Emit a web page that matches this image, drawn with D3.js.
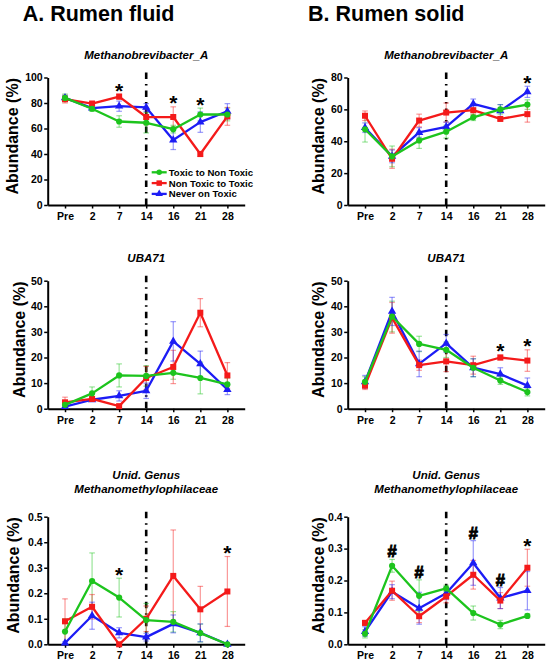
<!DOCTYPE html>
<html>
<head>
<meta charset="utf-8">
<script src="https://cdn.jsdelivr.net/npm/d3@7"></script>
<style>
  body { margin: 0; background: #fff; }
  text { font-family: "Liberation Sans", Arial, sans-serif; }
</style>
</head>
<body>
<div id="chart"></div>
<script>
// categories
const days = ["Pre", "2", "7", "14", "16", "21", "28"];
const groups = ["Toxic to Non Toxic", "Non Toxic to Toxic", "Never on Toxic"];

// A. Rumen fluid - Methanobrevibacter_A  (rows: green, red, blue)
const fluidMbaMean = [
  [84, 75.5, 65.5, 64.5, 59.5, 71, 71],
  [83, 79.5, 85, 69, 69, 40, 69.5],
  [84, 76, 77.5, 76.5, 51, 65, 73.5]
];
const fluidMbaSem = [
  [3, 2, 4.5, 8, 3, 5, 5],
  [3, 2, 2, 6, 8, 2, 7],
  [2, 1.5, 4, 3, 7.5, 8, 6]
];
const fluidMbaMarks = [["7", "*"], ["16", "*"], ["21", "*"]];

// B. Rumen solid - Methanobrevibacter_A
const solidMbaMean = [
  [47.5, 30.5, 40.5, 46, 55, 60, 63],
  [56, 29, 53, 58, 59.5, 54, 57],
  [48.5, 30.5, 45.5, 49, 63.5, 59, 71]
];
const solidMbaSem = [
  [8, 6.5, 5, 4, 2, 3, 3],
  [3, 6, 4, 6, 3, 1, 5],
  [3, 4, 3, 3, 3, 4, 3.5]
];
const solidMbaMarks = [["28", "*"]];

// A. Rumen fluid - UBA71
const fluidUbaMean = [
  [1.5, 6, 13, 12.8, 14, 12, 9.5],
  [2.5, 3.8, 1, 12, 16.3, 37.5, 13],
  [0.8, 3.5, 5, 7, 26.3, 17.5, 7.5]
];
const fluidUbaSem = [
  [1, 2.5, 4.5, 4, 2.5, 6.2, 2.5],
  [2, 0.5, 0.5, 4.5, 6.5, 5.5, 5],
  [0.5, 0.5, 2, 3, 7.7, 5, 2]
];
const fluidUbaMarks = [];

// B. Rumen solid - UBA71
const solidUbaMean = [
  [10.5, 36, 25.3, 23, 16, 11, 6.5],
  [9, 35.5, 17, 18.5, 17, 20, 18.8],
  [10.5, 38, 17.5, 25.5, 16, 13.5, 9]
];
const solidUbaSem = [
  [2, 6, 3, 3, 3.5, 1.5, 1.5],
  [1.5, 6, 2, 4, 3.5, 1, 4.2],
  [2.5, 5.5, 5, 3.5, 3.5, 2.5, 3]
];
const solidUbaMarks = [["21", "*"], ["28", "*"]];

// A. Rumen fluid - Unid. Genus Methanomethylophilaceae
const fluidMmpMean = [
  [0.05, 0.248, 0.183, 0.095, 0.088, 0.044, 0],
  [0.09, 0.147, 0, 0.1, 0.268, 0.137, 0.207],
  [0.005, 0.112, 0.045, 0.028, 0.08, 0.045, 0]
];
const fluidMmpSem = [
  [0.05, 0.11, 0.076, 0.065, 0.04, 0.035, 0],
  [0.088, 0.048, 0, 0.05, 0.18, 0.09, 0.137],
  [0.005, 0.053, 0.02, 0.015, 0.035, 0.035, 0]
];
const fluidMmpMarks = [["7", "*"], ["28", "*"]];

// B. Rumen solid - Unid. Genus Methanomethylophilaceae
const solidMmpMean = [
  [0.033, 0.246, 0.152, 0.175, 0.098, 0.062, 0.089],
  [0.067, 0.168, 0.088, 0.15, 0.218, 0.137, 0.24],
  [0.04, 0.165, 0.113, 0.16, 0.255, 0.145, 0.168]
];
const solidMmpSem = [
  [0.013, 0.02, 0.05, 0.01, 0.022, 0.013, 0.006],
  [0.008, 0.03, 0.02, 0.02, 0.045, 0.025, 0.058],
  [0.015, 0.022, 0.05, 0.02, 0.07, 0.033, 0.06]
];
const solidMmpMarks = [["2", "#"], ["7", "#"], ["16", "#"], ["21", "#"], ["28", "*"]];

const colors = ["#1dc41d", "#f41a1a", "#1c1cf5"];
const shapes = [d3.symbolCircle, d3.symbolSquare, d3.symbolTriangle];

const width = 550, height = 665;
const svg = d3.select("#chart").append("svg")
  .attr("width", width)
  .attr("height", height);

// column / row placement of the six panels
const colLeft = [47.7, 347.7];
const plotW = 197;
const rowBottom = [205, 408.7, 644.3];
const rowTop = [77.5, 280.7, 516.7];

const panels = [
  {col: 0, row: 0, title: ["Methanobrevibacter_A"], yMax: 100, ticks: [0, 20, 40, 60, 80, 100], fmt: d3.format("d"),
   mean: fluidMbaMean, sem: fluidMbaSem, marks: fluidMbaMarks, labelX: 18, legend: true},
  {col: 1, row: 0, title: ["Methanobrevibacter_A"], yMax: 80, ticks: [0, 20, 40, 60, 80], fmt: d3.format("d"),
   mean: solidMbaMean, sem: solidMbaSem, marks: solidMbaMarks, labelX: 324},
  {col: 0, row: 1, title: ["UBA71"], yMax: 50, ticks: [0, 10, 20, 30, 40, 50], fmt: d3.format("d"),
   mean: fluidUbaMean, sem: fluidUbaSem, marks: fluidUbaMarks, labelX: 25},
  {col: 1, row: 1, title: ["UBA71"], yMax: 50, ticks: [0, 10, 20, 30, 40, 50], fmt: d3.format("d"),
   mean: solidUbaMean, sem: solidUbaSem, marks: solidUbaMarks, labelX: 324},
  {col: 0, row: 2, title: ["Unid. Genus", "Methanomethylophilaceae"], yMax: 0.5, ticks: [0, 0.1, 0.2, 0.3, 0.4, 0.5], fmt: d3.format(".1f"),
   mean: fluidMmpMean, sem: fluidMmpSem, marks: fluidMmpMarks, labelX: 19},
  {col: 1, row: 2, title: ["Unid. Genus", "Methanomethylophilaceae"], yMax: 0.4, ticks: [0, 0.1, 0.2, 0.3, 0.4], fmt: d3.format(".1f"),
   mean: solidMmpMean, sem: solidMmpSem, marks: solidMmpMarks, labelX: 324}
];

// section headers
svg.append("text").attr("x", 22.7).attr("y", 20.7)
  .attr("font-size", 21.5).attr("font-weight", "bold").text("A. Rumen fluid");
svg.append("text").attr("x", 308).attr("y", 20.7)
  .attr("font-size", 21.5).attr("font-weight", "bold").text("B. Rumen solid");

const titleBase = [59, 261.5, 479];

panels.forEach(drawPanel);

function drawPanel(p) {
  const x0 = colLeft[p.col];
  const yb = rowBottom[p.row];
  const yt = rowTop[p.row];

  const x = d3.scalePoint().domain(days).range([x0, x0 + plotW]).padding(0.64);
  const y = d3.scaleLinear().domain([0, p.yMax]).range([yb, yt]);

  const g = svg.append("g");

  // title
  p.title.forEach((t, i) => {
    g.append("text")
      .attr("x", x0 + plotW / 2)
      .attr("y", titleBase[p.row] + i * 14.3)
      .attr("text-anchor", "middle")
      .attr("font-size", 11.5)
      .attr("font-weight", "bold")
      .attr("font-style", "italic")
      .text(t);
  });

  // axes
  const xAxisG = g.append("g")
    .attr("transform", `translate(0,${yb})`)
    .call(d3.axisBottom(x).tickSize(3.5).tickSizeOuter(0).tickPadding(4));
  const yAxisG = g.append("g")
    .attr("transform", `translate(${x0},0)`)
    .call(d3.axisLeft(y).tickValues(p.ticks).tickFormat(p.fmt).tickSize(3.5).tickSizeOuter(0).tickPadding(1.5));

  [xAxisG, yAxisG].forEach(a => {
    a.select(".domain").attr("stroke-width", 2).attr("stroke", "#000");
    a.selectAll(".tick line").attr("stroke-width", 1.5).attr("stroke", "#000");
    a.selectAll(".tick text")
      .attr("font-size", 10.5)
      .attr("font-weight", "bold")
      .attr("fill", "#000")
      .style("font-family", '"Liberation Sans", Arial, sans-serif');
  });

  // y axis title
  g.append("text")
    .attr("transform", `translate(${p.labelX},${(yb + yt) / 2 - 5}) rotate(-90)`)
    .attr("text-anchor", "middle")
    .attr("font-size", 16)
    .attr("font-weight", "bold")
    .text("Abundance (%)");

  // dash-dot switch line at day 14
  g.append("line")
    .attr("x1", x("14")).attr("x2", x("14"))
    .attr("y1", yt - 5).attr("y2", yb + 4)
    .attr("stroke", "#000")
    .attr("stroke-width", 2.6)
    .attr("stroke-dasharray", "6.5,5,1.5,5");

  // error bars
  p.mean.forEach((series, s) => {
    const eg = g.append("g")
      .attr("stroke", colors[s])
      .attr("stroke-opacity", 0.45)
      .attr("stroke-width", 1.2);
    series.forEach((m, i) => {
      const e = p.sem[s][i];
      if (e <= 0) return;
      const cx = x(days[i]);
      const lo = y(Math.max(0, m - e));
      const hi = y(m + e);
      eg.append("line").attr("x1", cx).attr("x2", cx).attr("y1", lo).attr("y2", hi);
      eg.append("line").attr("x1", cx - 2.8).attr("x2", cx + 2.8).attr("y1", hi).attr("y2", hi);
      eg.append("line").attr("x1", cx - 2.8).attr("x2", cx + 2.8).attr("y1", lo).attr("y2", lo);
    });
  });

  // lines + markers
  const line = d3.line()
    .x((d, i) => x(days[i]))
    .y(d => y(d));

  [2, 1, 0].forEach(s => {
    g.append("path")
      .datum(p.mean[s])
      .attr("fill", "none")
      .attr("stroke", colors[s])
      .attr("stroke-width", 2.3)
      .attr("stroke-linejoin", "round")
      .attr("d", line);
    g.selectAll(null)
      .data(p.mean[s])
      .join("path")
      .attr("transform", (d, i) => `translate(${x(days[i])},${y(d)})`)
      .attr("d", d3.symbol().type(shapes[s]).size(s === 1 ? 36 : 30))
      .attr("fill", colors[s]);
  });

  // significance marks
  p.marks.forEach(([day, sym]) => {
    const i = days.indexOf(day);
    const top = d3.max(p.mean, (series, s) => series[i] + p.sem[s][i]);
    const cy = y(top) - 8;
    const t = g.append("text")
      .attr("x", x(day))
      .attr("y", sym === "*" ? cy + 11.5 : cy + 6)
      .attr("text-anchor", "middle")
      .attr("font-size", sym === "*" ? 21 : 16.5)
      .attr("font-weight", "bold")
      .text(sym);
    if (sym === "#") t.attr("stroke", "#000").attr("stroke-width", 0.9);
  });

  if (p.legend) {
    const lg = g.append("g").attr("transform", "translate(151.7,172.3)");
    groups.forEach((name, s) => {
      const row = lg.append("g").attr("transform", `translate(0,${s * 10.8})`);
      row.append("line")
        .attr("x1", 0).attr("x2", 15)
        .attr("stroke", colors[s]).attr("stroke-width", 2.3);
      row.append("path")
        .attr("transform", "translate(7.5,0)")
        .attr("d", d3.symbol().type(shapes[s]).size(s === 1 ? 30 : 24))
        .attr("fill", colors[s]);
      row.append("text")
        .attr("x", 17)
        .attr("y", 3.5)
        .attr("font-size", 9.6)
        .attr("font-weight", "bold")
        .text(name);
    });
  }
}
</script>
</body>
</html>
